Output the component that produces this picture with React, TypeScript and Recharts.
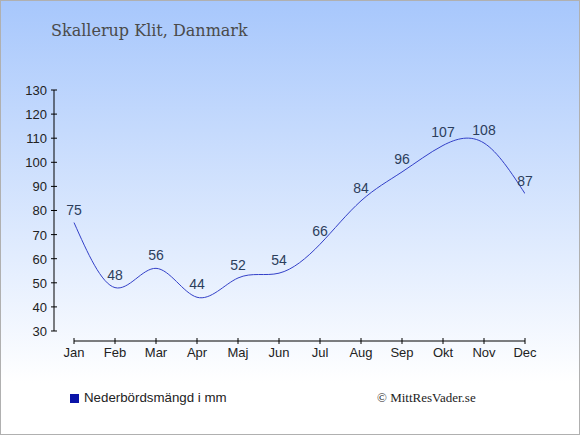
import React from "react";
import { LineChart, Line, XAxis, YAxis, ReferenceLine, LabelList } from "recharts";

const months = ["Jan", "Feb", "Mar", "Apr", "Maj", "Jun", "Jul", "Aug", "Sep", "Okt", "Nov", "Dec"];
const precipitation = [75, 48, 56, 44, 52, 54, 66, 84, 96, 107, 108, 87];
const yTicks = [30, 40, 50, 60, 70, 80, 90, 100, 110, 120, 130];
const monthIdx = months.map((_, i) => i);

const data = months.map((m, i) => ({ i, month: m, mm: precipitation[i] }));

const SANS = "'Liberation Sans', Arial, sans-serif";
const SERIF = "'DejaVu Serif', serif";
const X_MIN = -0.488; // y axis sits a bit left of Jan
const Y_MIN = 25.85; // x axis sits a bit below 30

const YTick = (props: any) => {
  const { x, y, payload } = props;
  return (
    <g>
      <line x1={x - 3} x2={x + 3} y1={y} y2={y} stroke="#000" />
      <text x={x - 7} y={y + 5} textAnchor="end" fontSize={13} fontFamily={SANS} fill="#222">
        {payload.value}
      </text>
    </g>
  );
};

const XTick = (props: any) => {
  const { x, y, payload } = props;
  return (
    <g>
      <line x1={x} x2={x} y1={y - 3} y2={y + 3} stroke="#000" />
      <text x={x} y={y + 16} textAnchor="middle" fontSize={13} fontFamily={SANS} fill="#222">
        {months[payload.value]}
      </text>
    </g>
  );
};

export default function App() {
  return (
    <div
      style={{
        position: "absolute",
        left: 0,
        top: 0,
        width: 580,
        height: 435,
        background: "linear-gradient(to bottom, #a7c7fc 0%, #ffffff 88%)",
        overflow: "hidden",
      }}
    >
      <div
        style={{
          position: "absolute",
          left: 51,
          top: 21,
          fontFamily: SERIF,
          fontSize: 16,
          color: "#4a4a4a",
          whiteSpace: "nowrap",
        }}
      >
        Skallerup Klit, Danmark
      </div>
      <div style={{ position: "absolute", left: 0, top: 0 }}>
        <LineChart width={580} height={435} data={data} margin={{ top: 90, right: 55, bottom: 64, left: 0 }}>
          <YAxis
            type="number"
            domain={[Y_MIN, 130]}
            ticks={yTicks}
            width={54}
            axisLine={false}
            tickLine={false}
            tickSize={0}
            tickMargin={0}
            tick={<YTick />}
            allowDataOverflow
            interval={0}
          />
          <XAxis
            dataKey="i"
            type="number"
            domain={[X_MIN, 11]}
            ticks={monthIdx}
            height={30}
            axisLine={false}
            tickLine={false}
            tickSize={0}
            tickMargin={0}
            tick={<XTick />}
            allowDataOverflow
            interval={0}
          />
          <ReferenceLine
            segment={[
              { x: X_MIN, y: 30 },
              { x: X_MIN, y: 130 },
            ]}
            stroke="#000"
            ifOverflow="visible"
          />
          <ReferenceLine
            segment={[
              { x: 0, y: Y_MIN },
              { x: 11, y: Y_MIN },
            ]}
            stroke="#000"
            ifOverflow="visible"
          />
          <Line
            type="natural"
            dataKey="mm"
            stroke="#3340c8"
            strokeWidth={1}
            dot={false}
            isAnimationActive={false}
          >
            <LabelList dataKey="mm" position="top" offset={8} fill="#2c3e5c" fontSize={14} fontFamily={SANS} />
          </Line>
        </LineChart>
      </div>
      <div style={{ position: "absolute", left: 70, top: 394, width: 9, height: 9, background: "#0a14a8" }} />
      <div
        style={{
          position: "absolute",
          left: 84,
          top: 390,
          fontFamily: SANS,
          fontSize: 13.3,
          color: "#222",
          whiteSpace: "nowrap",
        }}
      >
        Nederbördsmängd i mm
      </div>
      <div
        style={{
          position: "absolute",
          left: 377,
          top: 390,
          fontFamily: "'Liberation Serif', serif",
          fontSize: 13,
          color: "#222",
          whiteSpace: "nowrap",
        }}
      >
        © MittResVader.se
      </div>
      <div
        style={{
          position: "absolute",
          left: 0,
          top: 0,
          width: 580,
          height: 435,
          boxSizing: "border-box",
          border: "1px solid #b0b0b0",
          pointerEvents: "none",
        }}
      />
    </div>
  );
}
